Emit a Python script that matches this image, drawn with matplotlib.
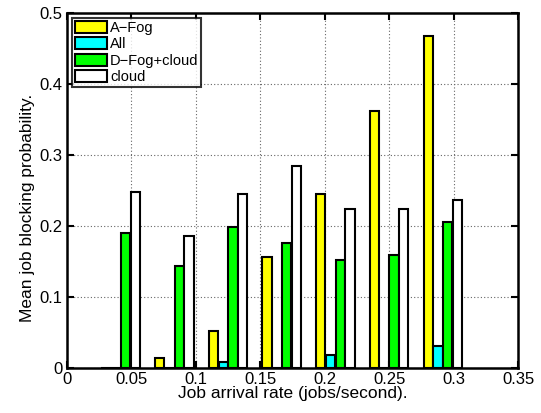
import numpy as np
import matplotlib
matplotlib.use('Agg')
import matplotlib.pyplot as plt

plt.rcParams['font.family'] = ['Liberation Sans', 'DejaVu Sans']

# arrival rates (jobs/second), k/24
rates = [1/24, 2/24, 3/24, 4/24, 5/24, 6/24, 7/24]
series = ['A\u2212Fog', 'All', 'D\u2212Fog+cloud', 'cloud']
a_fog = [0.0, 0.0137, 0.052, 0.157, 0.2446, 0.3615, 0.468]
all_fog = [0.0, 0.0, 0.0085, 0.0, 0.0188, 0.0, 0.031]
d_fog_cloud = [0.19, 0.144, 0.199, 0.1765, 0.152, 0.1587, 0.2056]
cloud = [0.2475, 0.186, 0.2446, 0.285, 0.224, 0.224, 0.236]
colors = ['#ffff00', '#00ffff', '#00ff00', '#ffffff']

fig = plt.figure(figsize=(5.41, 4.13), dpi=100)
ax = fig.add_axes([0.1238, 0.109, 0.8337, 0.8595])

x = np.array(rates)
step = 0.00758
width = 0.0072
for i, (vals, c, name) in enumerate(zip([a_fog, all_fog, d_fog_cloud, cloud], colors, series)):
    ax.bar(x + (i - 1.5) * step, vals, width, color=c, edgecolor='black',
           linewidth=1.5, label=name, zorder=3)

ax.set_xlim(0, 0.35)
ax.set_ylim(0, 0.5)
ax.set_xticks([0, 0.05, 0.1, 0.15, 0.2, 0.25, 0.3, 0.35])
ax.set_xticklabels(['0', '0.05', '0.1', '0.15', '0.2', '0.25', '0.3', '0.35'])
ax.set_yticks([0, 0.1, 0.2, 0.3, 0.4, 0.5])
ax.set_yticklabels(['0', '0.1', '0.2', '0.3', '0.4', '0.5'])
ax.grid(True, linestyle=(0, (1, 2)), color='#666666', linewidth=0.8, zorder=0)
ax.tick_params(direction='in', top=True, right=True, labelsize=12, length=5, width=1.5, pad=3)
for s in ax.spines.values():
    s.set_linewidth(1.8)

ax.set_xlabel('Job arrival rate (jobs/second).', fontsize=12.5, labelpad=-1)
ax.set_ylabel('Mean job blocking probability.', fontsize=12.5)
ax.yaxis.set_label_coords(-0.07, 0.45)

leg = ax.legend(loc='upper left', fontsize=10.5, frameon=True, fancybox=False,
                edgecolor='black', borderpad=0.2, handlelength=2.2, handleheight=0.9,
                handletextpad=0.2, labelspacing=0.15, borderaxespad=0.35)
leg.get_frame().set_linewidth(1.5)

fig.savefig('out.png', dpi=100)
